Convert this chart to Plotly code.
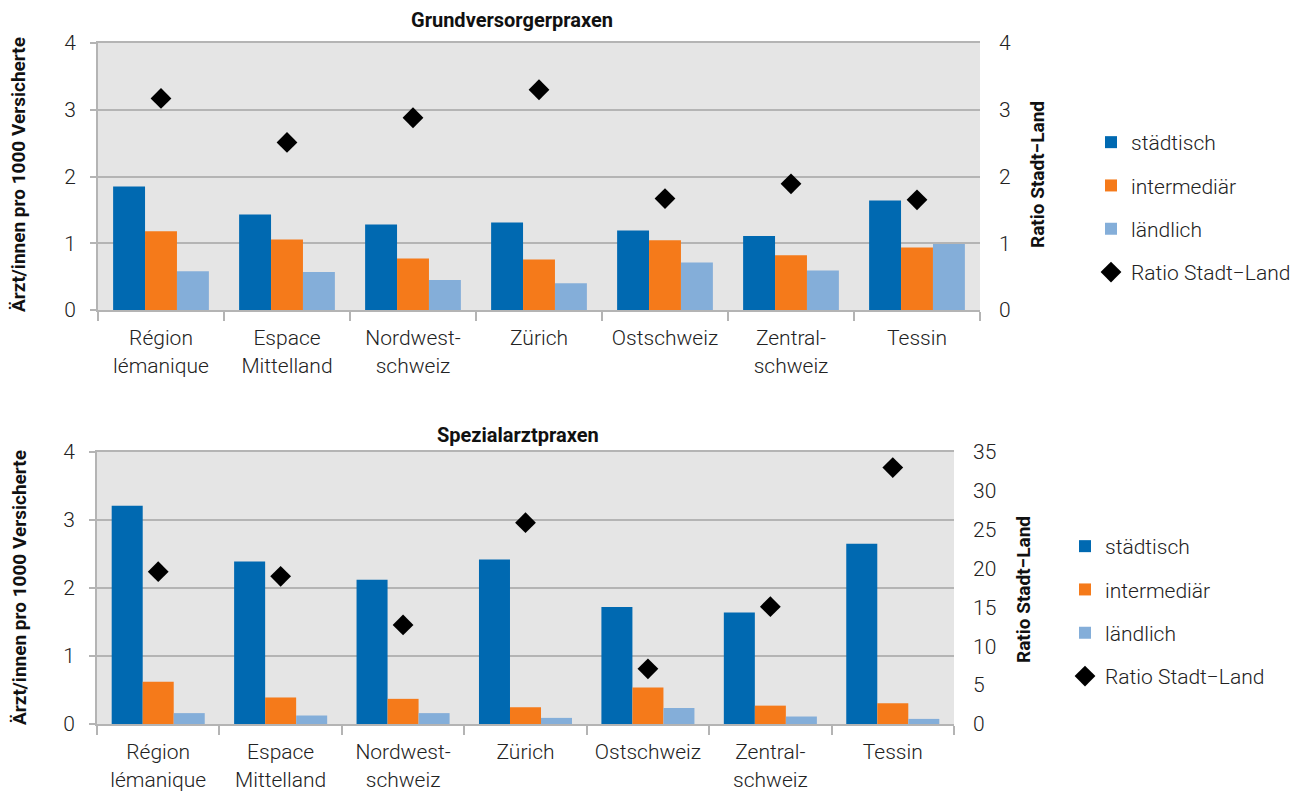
import plotly.graph_objects as go

regions = ["Région<br>lémanique", "Espace<br>Mittelland", "Nordwest-<br>schweiz", "Zürich",
           "Ostschweiz", "Zentral-<br>schweiz", "Tessin"]

# Grundversorgerpraxen
gv_stadt = [1.85, 1.43, 1.28, 1.31, 1.19, 1.11, 1.64]
gv_inter = [1.18, 1.055, 0.77, 0.755, 1.045, 0.82, 0.935]
gv_land = [0.58, 0.57, 0.45, 0.40, 0.71, 0.59, 0.99]
gv_ratio = [3.17, 2.51, 2.88, 3.30, 1.67, 1.89, 1.65]

# Spezialarztpraxen
sp_stadt = [3.21, 2.39, 2.12, 2.42, 1.72, 1.64, 2.65]
sp_inter = [0.62, 0.39, 0.37, 0.245, 0.535, 0.27, 0.305]
sp_land = [0.16, 0.125, 0.16, 0.09, 0.235, 0.11, 0.075]
sp_ratio = [19.6, 19.0, 12.75, 25.9, 7.1, 15.1, 33.0]

C_STADT = "#0069B1"
C_INTER = "#F57A1A"
C_LAND = "#84AED9"
FONT = "Roboto"
GRID = "#B4B4B4"
TXT = "#222222"

W, H = 1306, 793
OFF = 8  # page body margin


def px_x(x):
    return (x - OFF) / W


def px_y(y):
    return 1 - (y - OFF) / H


fig = go.Figure()


def add_group(xa, ya, ya2, legend, stadt, inter, land, ratio):
    for name, vals, col in [("städtisch", stadt, C_STADT), ("intermediär", inter, C_INTER),
                            ("ländlich", land, C_LAND)]:
        fig.add_trace(go.Bar(x=regions, y=vals, name=name, marker_color=col,
                             marker_line_width=0, xaxis=xa, yaxis=ya, legend=legend,
                             legendgroup=legend + name))
    fig.add_trace(go.Scatter(x=regions, y=ratio, name="Ratio Stadt−Land", mode="markers",
                             marker=dict(symbol="diamond", size=16, color="black"),
                             xaxis=xa, yaxis=ya2, legend=legend, legendgroup=legend + "ratio"))


add_group("x", "y", "y3", "legend", gv_stadt, gv_inter, gv_land, gv_ratio)
add_group("x2", "y2", "y4", "legend2", sp_stadt, sp_inter, sp_land, sp_ratio)

tickfont = dict(family=FONT, size=21, color=TXT, weight=300)

xcommon = dict(type="category", showline=True, linecolor=GRID, linewidth=2, mirror=True,
               ticks="outside", tickson="boundaries", ticklen=9, tickcolor=GRID, tickwidth=2,
               tickfont=tickfont, showgrid=False, ticklabelstandoff=8, automargin=False)
ycommon = dict(showline=True, linecolor=GRID, linewidth=2, showgrid=True, gridcolor=GRID,
               gridwidth=1.5, ticks="outside", ticklen=6, tickcolor=GRID, tickwidth=2,
               tickfont=tickfont, zeroline=False, ticklabelstandoff=10, automargin=False)

top_dom = [px_y(310), px_y(43)]
bot_dom = [px_y(724), px_y(452)]

legfont = dict(family=FONT, size=21, color=TXT, weight=300)

fig.update_layout(
    width=W, height=H,
    margin=dict(l=0, r=0, t=0, b=0, autoexpand=False),
    paper_bgcolor="white",
    plot_bgcolor="#E5E5E5",
    barmode="group", bargap=0.24, bargroupgap=0,
    font=dict(family=FONT, color=TXT),
    xaxis=dict(domain=[px_x(98), px_x(980)], anchor="y", **xcommon),
    xaxis2=dict(domain=[px_x(97), px_x(954)], anchor="y2", **xcommon),
    yaxis=dict(domain=top_dom, anchor="x", range=[0, 4], dtick=1, **ycommon),
    yaxis2=dict(domain=bot_dom, anchor="x2", range=[0, 4], dtick=1, **ycommon),
    yaxis3=dict(overlaying="y", anchor="x", side="right", range=[0, 4], dtick=1,
                showgrid=False, zeroline=False, tickfont=tickfont, ticks="",
                ticklabelstandoff=18, automargin=False),
    yaxis4=dict(overlaying="y2", anchor="x2", side="right", range=[0, 35], dtick=5,
                showgrid=False, zeroline=False, tickfont=tickfont, ticks="",
                ticklabelstandoff=18, automargin=False),
    legend=dict(x=px_x(1091), y=px_y(122), xanchor="left", yanchor="top",
                font=legfont, tracegroupgap=13, bgcolor="rgba(0,0,0,0)", itemwidth=30),
    legend2=dict(x=px_x(1065), y=px_y(526), xanchor="left", yanchor="top",
                 font=legfont, tracegroupgap=13, bgcolor="rgba(0,0,0,0)", itemwidth=30),
    showlegend=True,
)

annos = [
    dict(text="<b>Grundversorgerpraxen</b>", x=px_x(512), y=px_y(20), size=20, angle=0),
    dict(text="<b>Spezialarztpraxen</b>", x=px_x(518), y=px_y(435), size=20, angle=0),
    dict(text="<b>Ärzt/innen pro 1000 Versicherte</b>", x=px_x(19), y=px_y(175), size=19, angle=-90),
    dict(text="<b>Ärzt/innen pro 1000 Versicherte</b>", x=px_x(19), y=px_y(588), size=19, angle=-90),
    dict(text="<b>Ratio Stadt−Land</b>", x=px_x(1038), y=px_y(175), size=19, angle=-90),
    dict(text="<b>Ratio Stadt−Land</b>", x=px_x(1023), y=px_y(590), size=19, angle=-90),
]
for a in annos:
    fig.add_annotation(text=a["text"], x=a["x"], y=a["y"], xref="paper", yref="paper",
                       showarrow=False, textangle=a["angle"], xanchor="center", yanchor="middle",
                       font=dict(family=FONT, size=a["size"], color="#111111"))

fig.write_html("out.html")
